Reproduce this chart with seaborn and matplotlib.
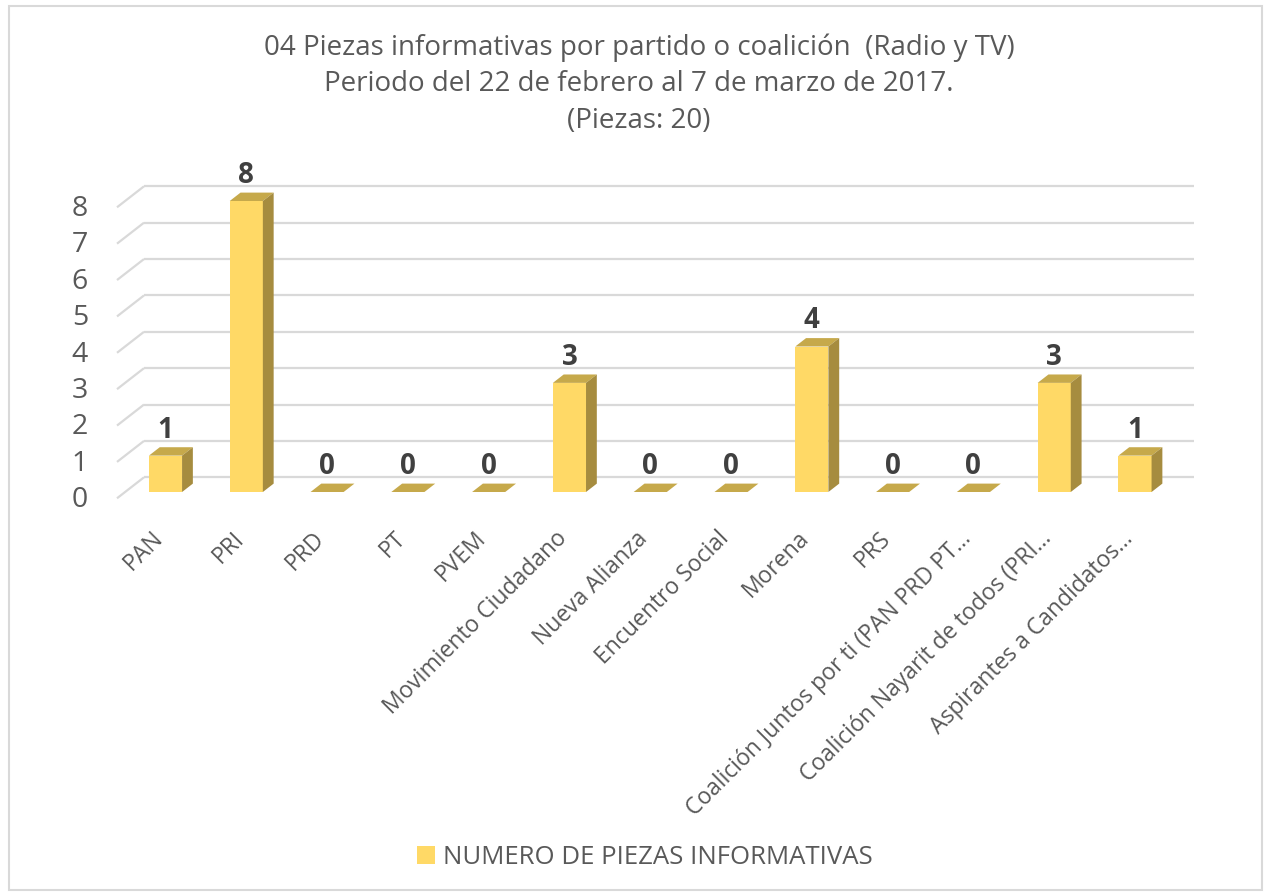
import numpy as np
import pandas as pd
import matplotlib
matplotlib.use("Agg")
import matplotlib.pyplot as plt
import seaborn as sns
from matplotlib.transforms import ScaledTranslation
from matplotlib.patches import Polygon, Rectangle, Patch

# ---------------- data ----------------
categories = [
    "PAN", "PRI", "PRD", "PT", "PVEM", "Movimiento Ciudadano", "Nueva Alianza",
    "Encuentro Social", "Morena", "PRS", "Coalición Juntos por ti (PAN PRD PT…",
    "Coalición Nayarit de todos (PRI…", "Aspirantes a Candidatos…",
]
values = [1, 8, 0, 0, 0, 3, 0, 0, 4, 0, 0, 3, 1]
series_name = "NUMERO DE PIEZAS INFORMATIVAS"
title_lines = [
    "04 Piezas informativas por partido o coalición  (Radio y TV)",
    "Periodo del 22 de febrero al 7 de marzo de 2017.",
    "(Piezas: 20)",
]
y_ticks = list(range(0, 9))

# ---------------- style ----------------
FRONT = "#FFD966"
TOP = "#C6A94B"
SIDE = "#A68C3F"
GRID = "#D9D9D9"
TXT = "#595959"
LBL = "#404040"

sns.set_theme(style="white")
plt.rcParams['font.family'] = ['Open Sans', 'DejaVu Sans']

W, H = 1270, 896
DPI = 100
fig = plt.figure(figsize=(W / DPI, H / DPI), dpi=DPI)
fig.patch.set_facecolor("white")

# axes = front plane of the bars (pixel layout)
ax_l, ax_r, ax_b, ax_t = 125.1, 1175.4, 492.0, 201.0
ax = fig.add_axes([ax_l / W, (H - ax_b) / H, (ax_r - ax_l) / W, (ax_b - ax_t) / H])
ax.set_facecolor("none")

df = pd.DataFrame({"cat": categories, "val": values})
sns.barplot(data=df, x="cat", y="val", color=FRONT, saturation=1, width=0.41,
            edgecolor="none", linewidth=0, ax=ax, zorder=3)
ax.set_xlim(-0.5, len(categories) - 0.5)
ax.set_ylim(0, 8)
for s in ax.spines.values():
    s.set_visible(False)
ax.set_xlabel("")
ax.set_ylabel("")

# pixel -> data unit conversion
p0 = ax.transData.transform((0, 0))
p1 = ax.transData.transform((1, 1))
ux, uy = p1 - p0

# depth vector of the 3D box (pixels): full depth D
Dx, Dy = 27.0, 21.0
f_front, f_back = -0.3, 0.7     # relative to bar front plane
b_depth = 0.4                   # bar depth fraction

# back-wall gridlines
gtr = ax.transData + ScaledTranslation(f_back * Dx / DPI, f_back * Dy / DPI, fig.dpi_scale_trans)
ax.hlines(y_ticks, -0.5, len(categories) - 0.5, colors=GRID, linewidth=1.6,
          transform=gtr, clip_on=False, zorder=1)
# side-wall diagonals
for k in y_ticks:
    ax.plot([-0.5 + f_front * Dx / ux, -0.5 + f_back * Dx / ux],
            [k + f_front * Dy / uy, k + f_back * Dy / uy],
            color=GRID, linewidth=1.6, clip_on=False, zorder=1, solid_capstyle="butt")

# 3D faces of bars
bdx, bdy = b_depth * Dx / ux, b_depth * Dy / uy
for r in list(ax.patches):
    x, w, h = r.get_x(), r.get_width(), r.get_height()
    top = Polygon([(x, h), (x + w, h), (x + w + bdx, h + bdy), (x + bdx, h + bdy)],
                  closed=True, facecolor=TOP, edgecolor="none", clip_on=False, zorder=4)
    side = Polygon([(x + w, 0), (x + w, h), (x + w + bdx, h + bdy), (x + w + bdx, bdy)],
                   closed=True, facecolor=SIDE, edgecolor="none", clip_on=False, zorder=4)
    ax.add_patch(top)
    ax.add_patch(side)
    r.set_clip_on(False)

# data labels
ax.bar_label(ax.containers[0], labels=[str(v) for v in values], padding=8,
             fontsize=20, fontweight="bold", color=LBL, clip_on=False)

# y tick labels (front plane)
ax.set_yticks([])
ytr = ax.transData + ScaledTranslation(-37 / DPI, -8 / DPI, fig.dpi_scale_trans)
for k in y_ticks:
    ax.text(-0.5, k, str(k), transform=ytr, ha="right", va="center",
            fontsize=20.5, color=TXT, clip_on=False)

# x tick labels
ax.set_xticks(range(len(categories)))
ax.set_xticklabels(categories, rotation=45, ha="right", va="center",
                   rotation_mode="anchor", fontsize=16.5, color=TXT)
ax.tick_params(axis="x", length=0, pad=31)
for lab in ax.get_xticklabels():
    lab.set_transform(lab.get_transform() + ScaledTranslation(-6 / DPI, 0, fig.dpi_scale_trans))

# title
title_y = [55, 91, 128]
for line, yy in zip(title_lines, title_y):
    fig.text(639 / W, 1 - yy / H, line, ha="center", va="baseline",
             fontsize=20, color=TXT)

# legend
leg = fig.legend(handles=[Patch(facecolor=FRONT, edgecolor="none")], labels=[series_name],
                 loc="center", bbox_to_anchor=(645 / W, 1 - 857 / H), frameon=False,
                 fontsize=18.5, handlelength=0.7, handleheight=0.7, handletextpad=0.3,
                 labelcolor=TXT)

# chart border
fig.patches.append(Rectangle((9 / W, 6 / H), (1262 - 9) / W, (890 - 6) / H,
                             transform=fig.transFigure, fill=False,
                             edgecolor=GRID, linewidth=1.5))

fig.savefig("out.png", dpi=DPI, facecolor="white")
